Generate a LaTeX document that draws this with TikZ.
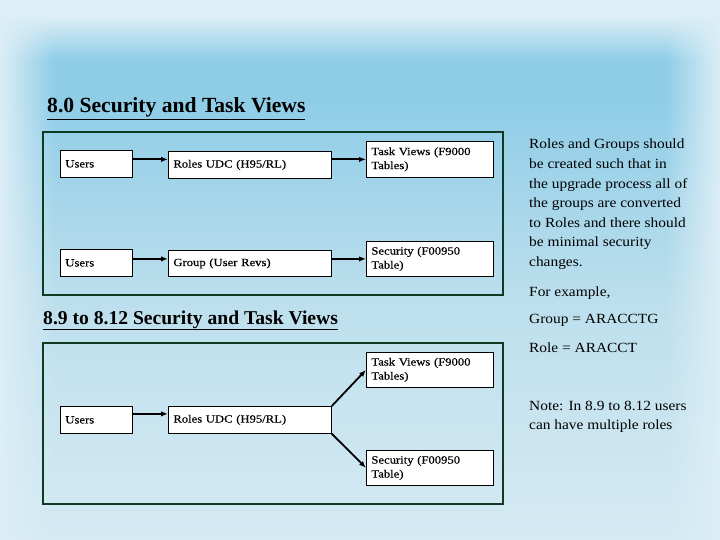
\documentclass[tikz,border=0pt]{standalone}
\usepackage{fontspec}
\setmainfont{Liberation Serif}
\newfontfamily\boxfont[FakeStretch=1.15,FakeBold=0.4]{Liberation Serif}
\newfontfamily\notefont[FakeStretch=1.1]{Liberation Serif}
\usetikzlibrary{arrows.meta,fadings}
\definecolor{bgpale}{HTML}{DCEEF6}
\definecolor{bgdeep}{HTML}{8FCDE7}
\definecolor{bgmid}{HTML}{BDDFED}
\definecolor{bgbot}{HTML}{D5EAF3}
\definecolor{framecol}{HTML}{0E3B22}
\pgfdeclareverticalshading{bgv}{100bp}{color(0bp)=(bgbot); color(25bp)=(bgbot); color(47bp)=(bgmid); color(65.7bp)=(bgdeep); color(69.4bp)=(bgdeep); color(73.5bp)=(bgpale); color(75bp)=(bgpale); color(100bp)=(bgpale)}
\tikzfading[name=fadeLR, left color=transparent!0, right color=transparent!100]
\tikzfading[name=fadeRL, left color=transparent!100, right color=transparent!0]
\tikzset{
  box/.style={draw=black, line width=0.8pt, fill=white, anchor=north west,
    inner xsep=5pt, inner ysep=0pt, align=left,
    font=\boxfont\fontsize{11}{14}\selectfont},
  framebox/.style={draw=framecol, line width=2.2pt, anchor=north west, inner sep=0pt},
  arr/.style={-{Latex[length=7pt,width=5.5pt]}, line width=1.8pt},
  title/.style={anchor=base west, inner sep=0pt, font=\bfseries\fontsize{19.6}{22}\selectfont},
  note/.style={anchor=base west, inner sep=0pt, font=\notefont\fontsize{14}{16}\selectfont},
}
\begin{document}
\begin{tikzpicture}[x=1pt,y=-1pt]
\useasboundingbox (0,0) rectangle (720,540);
\shade[shading=bgv] (0,0) rectangle (720,540);
\fill[bgpale, path fading=fadeLR] (0,0) rectangle (55,540);
\fill[bgpale, path fading=fadeRL] (665,0) rectangle (720,540);

% titles
\node[title, font=\bfseries\fontsize{21.6}{24}\selectfont] (h1) at (47,113) {\underline{8.0 Security and Task Views}};
\node[title] (h2) at (43,324) {\underline{8.9 to 8.12 Security and Task Views}};

% frames
\node[framebox, minimum width=460pt, minimum height=163pt] (f1) at (42,131) {};
\node[framebox, minimum width=460pt, minimum height=161pt] (f2) at (42,342) {};

% section 1
\node[box, text width=62pt, minimum height=27pt] (u1) at (60,150) {Users};
\node[box, text width=153pt, minimum height=27pt] (r1) at (168,151) {Roles UDC (H95/RL)};
\node[box, text width=117pt, minimum height=36pt] (t1) at (366,141) {Task Views (F9000\\Tables)};
\node[box, text width=62pt, minimum height=27pt] (u2) at (60,249) {Users};
\node[box, text width=153pt, minimum height=26pt] (g2) at (168,250) {Group (User Revs)};
\node[box, text width=117pt, minimum height=35pt] (s2) at (366,241) {Security (F00950\\Table)};

\draw[arr] (t1.west -| u1.east) -- (t1.west -| r1.west);
\draw[arr] (t1.west -| r1.east) -- (t1.west);
\draw[arr] (s2.west -| u2.east) -- (s2.west -| g2.west);
\draw[arr] (s2.west -| g2.east) -- (s2.west);

% section 2
\node[box, text width=117pt, minimum height=35pt] (t3) at (366,352) {Task Views (F9000\\Tables)};
\node[box, text width=62pt, minimum height=27pt] (u3) at (60,406) {Users};
\node[box, text width=153pt, minimum height=27pt] (r3) at (168,406) {Roles UDC (H95/RL)};
\node[box, text width=117pt, minimum height=35pt] (s3) at (366,450) {Security (F00950\\Table)};

\draw[arr] ([yshift=6pt]u3.east) -- ([yshift=6pt]u3.east -| r3.west);
\draw[arr] (r3.north east) -- (t3.west);
\draw[arr] (r3.south east) -- (s3.west);

% right notes
\node[note] (p1) at (529,149) {Roles and Groups should};
\node[note] (p2) at (529,168.6) {be created such that in};
\node[note] (p3) at (529,188.2) {the upgrade process all of};
\node[note] (p4) at (529,207.8) {the groups are converted};
\node[note] (p5) at (529,227.4) {to Roles and there should};
\node[note] (p6) at (529,247) {be minimal security};
\node[note] (p7) at (529,266.6) {changes.};
\node[note] (q1) at (529,296) {For example,};
\node[note] (q2) at (529,323) {Group = ARACCTG};
\node[note] (q3) at (529,352) {Role = ARACCT};
\node[note] (q4) at (529,410) {Note: In 8.9 to 8.12 users};
\node[note] (q5) at (529,429) {can have multiple roles};
\end{tikzpicture}
\end{document}
